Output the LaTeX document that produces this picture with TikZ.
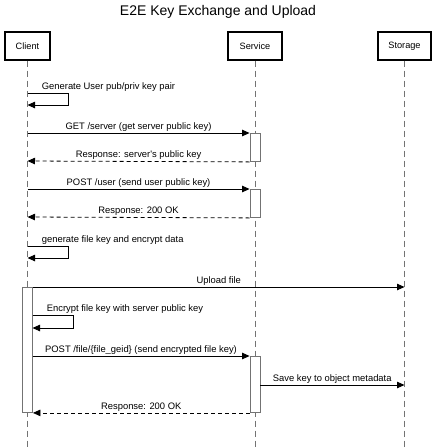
\documentclass[tikz,border=0pt]{standalone}
\usepackage{fontspec}
\setmainfont{Liberation Sans}
\usetikzlibrary{arrows.meta}
\begin{document}
\begin{tikzpicture}[x=1pt,y=-1pt,
  actor/.style={draw, line width=1.4pt, minimum height=28pt, font=\fontsize{9.2}{11}\selectfont, inner sep=0pt},
  life/.style={draw=black!55, line width=0.8pt, dash pattern=on 6pt off 4pt},
  act/.style={draw=black!55, line width=0.9pt, fill=white, minimum width=10pt, inner sep=0pt, anchor=north},
  msg/.style={line width=0.8pt, -{Triangle[length=7.5pt,width=6.5pt]}},
  ret/.style={msg, dash pattern=on 4pt off 3pt},
  lbl/.style={font=\fontsize{9.4}{11}\selectfont, anchor=base, inner sep=0pt},
  mlbl/.style={lbl, midway, yshift=3.8pt}
]
\useasboundingbox (0,0) rectangle (436,448);

\node[font=\fontsize{14}{16}\selectfont, anchor=base] (title) at (218,15.5) {E2E Key Exchange and Upload};

% actors
\node[actor, minimum width=45pt] (client) at (27.5,46) {Client};
\node[actor, minimum width=54pt] (service) at (255,46) {Service};
\node[actor, minimum width=53pt] (storage) at (404.5,46) {Storage};

% lifelines
\coordinate (clientEnd) at (27.5,448);
\coordinate (serviceEnd) at (255,448);
\coordinate (storageEnd) at (404.5,448);
\draw[life] (client.south) -- (clientEnd);
\draw[life] (service.south) -- (serviceEnd);
\draw[life] (storage.south) -- (storageEnd);

% activations
\node[act, minimum height=28pt] (act1) at (255,133) {};
\node[act, minimum height=28pt] (act2) at (255,189) {};
\node[act, minimum height=125pt] (act3) at (27.5,287) {};
\node[act, minimum height=56pt] (act4) at (255,356) {};

% 1 self message
\coordinate (s1a) at (27.5,93);
\coordinate (s1b) at (27.5,105);
\draw[msg] (s1a) -- ++(40.5,0) |- (s1b);
\node[lbl, anchor=base west] (l1) at (41.7,89) {Generate User pub/priv key pair};

% 2 GET /server
\coordinate (c1) at (27.5,133);
\draw[msg] (c1) -- (act1.north west) node[mlbl] {GET /server (get server public key)};

% 3 response
\coordinate (c2) at (27.5,161);
\draw[ret] (act1.south west) -- (c2) node[mlbl] {Response: server\textquotesingle s public key};

% 4 POST /user
\coordinate (c3) at (27.5,189);
\draw[msg] (c3) -- (act2.north west) node[mlbl] {POST /user (send user public key)};

% 5 response
\coordinate (c4) at (27.5,217);
\draw[ret] (act2.south west) -- (c4) node[mlbl] {Response: 200 OK};

% 6 self message
\coordinate (s2a) at (27.5,246);
\coordinate (s2b) at (27.5,258);
\draw[msg] (s2a) -- ++(40.5,0) |- (s2b);
\node[lbl, anchor=base west] (l6) at (41.7,242) {generate file key and encrypt data};

% 7 upload file
\coordinate (u1) at (404.5,287);
\draw[msg] (act3.north east) -- (u1) node[mlbl] {Upload file};

% 8 self message encrypt
\coordinate (s3a) at (32.5,315.5);
\coordinate (s3b) at (32.5,328);
\draw[msg] (s3a) -- ++(40.8,0) |- (s3b);
\node[lbl, anchor=base west] (l8) at (46.7,311.5) {Encrypt file key with server public key};

% 9 POST /file
\coordinate (p1) at (32.5,356);
\draw[msg] (p1) -- (act4.north west) node[mlbl] {POST /file/\{file\_geid\} (send encrypted file key)};

% 10 save key
\coordinate (sv1) at (260,385);
\coordinate (sv2) at (404.5,385);
\draw[msg] (sv1) -- (sv2) node[mlbl] {Save key to object metadata};

% 11 response
\draw[ret] (act4.south west) -- (act3.south east) node[mlbl] {Response: 200 OK};

\end{tikzpicture}
\end{document}
